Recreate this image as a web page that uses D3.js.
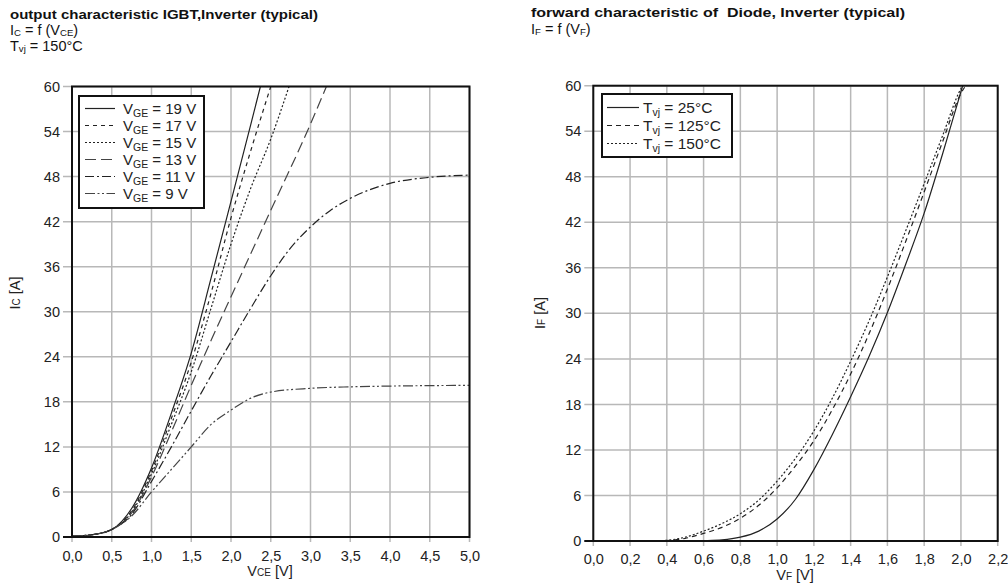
<!DOCTYPE html>
<html><head><meta charset="utf-8">
<script src="https://cdn.jsdelivr.net/npm/d3@7"></script>
<style>
body{margin:0;background:#fff;}
svg{display:block;font-family:"Liberation Sans",Arial,sans-serif;}
</style></head>
<body>
<svg id="c" width="1008" height="584"></svg>
<script>
// ---------- data: IGBT output characteristic (VCE [V], IC [A]) ----------
const vge19 = [[0,0.1],[0.25,0.3],[0.5,1.0],[0.75,3.8],[1.0,9.2],[1.25,16.5],[1.5,24.5],[1.75,34.5],[2.0,44.7],[2.25,55.0],[2.37,60]];
const vge17 = [[0,0.1],[0.25,0.3],[0.5,1.0],[0.75,3.5],[1.0,8.8],[1.25,15.8],[1.5,23.3],[1.75,32.5],[2.0,42.5],[2.25,51.5],[2.5,60]];
const vge15 = [[0,0.1],[0.25,0.3],[0.5,1.0],[0.75,3.3],[1.0,8.4],[1.25,15.0],[1.5,22.0],[1.75,30.5],[2.0,39.0],[2.25,46.5],[2.5,53.0],[2.73,60]];
const vge13 = [[0,0.1],[0.25,0.3],[0.5,1.0],[0.75,3.2],[1.0,8.0],[1.25,14.0],[1.5,20.2],[1.75,26.2],[2.0,32.0],[2.5,43.5],[3.0,55.0],[3.2,60]];
const vge11 = [[0,0.1],[0.25,0.3],[0.5,1.0],[0.75,3.0],[1.0,7.4],[1.25,12.0],[1.5,16.8],[1.75,21.5],[2.0,26.0],[2.25,30.5],[2.5,34.8],[2.75,38.5],[3.0,41.3],[3.25,43.5],[3.5,45.1],[4.0,47.1],[4.5,47.9],[5.0,48.2]];
const vge9  = [[0,0.1],[0.25,0.3],[0.5,1.0],[0.75,2.8],[1.0,6.0],[1.25,9.0],[1.5,12.0],[1.75,15.0],[2.0,16.9],[2.25,18.5],[2.5,19.3],[3.0,19.8],[3.5,20.0],[4.0,20.1],[5.0,20.2]];
const igbtLabels = ["19 V","17 V","15 V","13 V","11 V","9 V"];
const igbtXTicks = [0,0.5,1.0,1.5,2.0,2.5,3.0,3.5,4.0,4.5,5.0];
const igbtYTicks = [0,6,12,18,24,30,36,42,48,54,60];

// ---------- data: Diode forward characteristic (VF [V], IF [A]) ----------
const tvj25  = [[0,0],[0.4,0],[0.5,0],[0.6,0.05],[0.7,0.15],[0.8,0.5],[0.9,1.3],[1.0,2.9],[1.1,5.5],[1.2,9.4],[1.3,14.0],[1.4,19.0],[1.5,24.3],[1.6,30.1],[1.7,36.5],[1.8,43.2],[1.9,51.0],[2.0,59.2],[2.01,60]];
const tvj125 = [[0,0],[0.3,0],[0.4,0.05],[0.5,0.35],[0.6,1.0],[0.7,1.8],[0.8,3.0],[0.9,4.7],[1.0,7.0],[1.1,9.9],[1.2,13.2],[1.3,17.3],[1.4,22.0],[1.5,27.3],[1.6,33.2],[1.7,39.5],[1.8,46.0],[1.9,52.6],[2.0,59.0],[2.02,59.8]];
const tvj150 = [[0,0],[0.3,0],[0.4,0.1],[0.5,0.5],[0.6,1.3],[0.7,2.3],[0.8,3.6],[0.9,5.4],[1.0,7.9],[1.1,10.9],[1.2,14.5],[1.3,18.8],[1.4,23.7],[1.5,29.0],[1.6,34.8],[1.7,40.9],[1.8,47.1],[1.9,53.4],[2.0,59.6],[2.01,60]];
const diodeLabels = ["25°C","125°C","150°C"];
const diodeXTicks = [0,0.2,0.4,0.6,0.8,1.0,1.2,1.4,1.6,1.8,2.0,2.2];
const diodeYTicks = [0,6,12,18,24,30,36,42,48,54,60];

const svg = d3.select("#c");
const fmt = d => d.toFixed(1).replace(".", ",");
const gridCol = "#b8b8b8", lineCol = "#222";

function panel(o){
  const x = d3.scaleLinear().domain(o.xd).range(o.xr);
  const y = d3.scaleLinear().domain([0,60]).range(o.yr);
  const g = svg.append("g");
  const id = "clip" + o.key;
  svg.append("defs").append("clipPath").attr("id", id)
    .append("rect").attr("x", o.xr[0]).attr("y", o.yr[1]).attr("width", o.xr[1]-o.xr[0]).attr("height", o.yr[0]-o.yr[1]);
  // grid
  g.append("g").selectAll("line").data(o.xt).join("line")
    .attr("x1", d=>x(d)).attr("x2", d=>x(d)).attr("y1", o.yr[1]).attr("y2", o.yr[0]+5)
    .attr("stroke", gridCol).attr("stroke-width", 1.5);
  g.append("g").selectAll("line").data(o.yt).join("line")
    .attr("x1", o.xr[0]-9).attr("x2", o.xr[1]).attr("y1", d=>y(d)).attr("y2", d=>y(d))
    .attr("stroke", gridCol).attr("stroke-width", 1.5);
  // tick labels
  const xa = g.append("g").attr("transform", `translate(0,${o.yr[0]})`)
    .call(d3.axisBottom(x).tickValues(o.xt).tickFormat(fmt).tickSize(0).tickPadding(o.xpad));
  xa.select(".domain").remove();
  xa.selectAll("text").attr("font-size", 14.5).attr("fill", "#222").attr("font-family", "Liberation Sans, Arial, sans-serif");
  const ya = g.append("g").attr("transform", `translate(${o.xr[0]},0)`)
    .call(d3.axisLeft(y).tickValues(o.yt).tickFormat(d3.format("d")).tickSize(0).tickPadding(o.ypad));
  ya.select(".domain").remove();
  ya.selectAll("text").attr("font-size", 14.5).attr("fill", "#222").attr("font-family", "Liberation Sans, Arial, sans-serif");
  // curves
  const line = d3.line().x(d=>x(d[0])).y(d=>y(d[1])).curve(d3.curveMonotoneX);
  const cg = g.append("g").attr("clip-path", `url(#${id})`);
  o.series.forEach(s=>{
    cg.append("path").attr("d", line(s.data)).attr("fill","none")
      .attr("stroke", s.col || lineCol).attr("stroke-width", 1.2).attr("stroke-dasharray", s.dash);
  });
  // frame
  g.append("rect").attr("x", o.xr[0]).attr("y", o.yr[1]).attr("width", o.xr[1]-o.xr[0]).attr("height", o.yr[0]-o.yr[1])
    .attr("fill","none").attr("stroke","#111").attr("stroke-width",2);
  g.append("line").attr("x1", o.xr[0]-9).attr("x2", o.xr[0]).attr("y1", o.yr[0]).attr("y2", o.yr[0]).attr("stroke","#111").attr("stroke-width",2);
  // legend
  const L = o.legend;
  g.append("rect").attr("x", L.x).attr("y", L.y).attr("width", L.w).attr("height", L.h)
    .attr("fill","#fff").attr("stroke","#111").attr("stroke-width",2);
  o.series.forEach((s,i)=>{
    const cy = L.y + L.first + i*L.step;
    g.append("line").attr("x1", L.lx0).attr("x2", L.lx1).attr("y1", cy).attr("y2", cy)
      .attr("stroke", s.col || lineCol).attr("stroke-width", 1.2).attr("stroke-dasharray", s.dash);
    const t = g.append("text").attr("x", L.tx).attr("y", cy+5).attr("font-size", L.fs).attr("fill","#222");
    t.append("tspan").text(L.sym);
    t.append("tspan").attr("font-size", 10.5).attr("dy", 3).text(L.sub);
    t.append("tspan").attr("dy", -3).text(" = " + s.label);
  });
  return {x,y};
}

panel({
  key:"igbt", xd:[0,5], xr:[72,469.5], yr:[537,86.5], xt:igbtXTicks, yt:igbtYTicks, xpad:14, ypad:12,
  series:[
    {data:vge19, dash:null, label:igbtLabels[0]},
    {data:vge17, dash:"4,4", label:igbtLabels[1]},
    {data:vge15, dash:"2,2", label:igbtLabels[2]},
    {data:vge13, dash:"11,5", label:igbtLabels[3], col:"#444"},
    {data:vge11, dash:"9,3,2,3", label:igbtLabels[4]},
    {data:vge9,  dash:"10,2.5,2,2.5,2,2.5", label:igbtLabels[5], col:"#444"}
  ],
  legend:{x:79, y:96, w:125, h:112, first:12.5, step:17, lx0:85, lx1:115, tx:123, sym:"V", sub:"GE", fs:15}
});

panel({
  key:"diode", xd:[0,2.2], xr:[593.3,997.7], yr:[541,85.7], xt:diodeXTicks, yt:diodeYTicks, xpad:13, ypad:12,
  series:[
    {data:tvj25, dash:null, label:diodeLabels[0]},
    {data:tvj125, dash:"5,4", label:diodeLabels[1]},
    {data:tvj150, dash:"2,2", label:diodeLabels[2]}
  ],
  legend:{x:602, y:94, w:130, h:63, first:13.5, step:18, lx0:607, lx1:639, tx:643, sym:"T", sub:"vj", fs:15.5}
});

// ---------- titles ----------
function rich(x, y, parts, size){
  const t = svg.append("text").attr("x", x).attr("y", y).attr("font-size", size).attr("fill","#111");
  parts.forEach(p=>{
    if (p.sub) t.append("tspan").attr("font-size", size*0.66).attr("dy", 1).text(p.sub);
    else t.append("tspan").attr("dy", p.after ? -1 : 0).text(p.t);
  });
  return t;
}
svg.append("text").attr("x",10).attr("y",18.5).attr("font-size",13).attr("font-weight","bold").attr("fill","#111")
  .attr("textLength",308).attr("lengthAdjust","spacingAndGlyphs")
  .text("output characteristic IGBT,Inverter (typical)");
rich(10, 35, [{t:"I"},{sub:"C"},{t:" = f (V",after:true},{sub:"CE"},{t:")",after:true}], 14.5);
rich(10, 51, [{t:"T"},{sub:"vj"},{t:" = 150°C",after:true}], 14.5);
svg.append("text").attr("x",531).attr("y",17).attr("font-size",13).attr("font-weight","bold").attr("fill","#111")
  .attr("xml:space","preserve").attr("textLength",374).attr("lengthAdjust","spacingAndGlyphs")
  .text("forward characteristic of  Diode, Inverter (typical)");
rich(531, 34, [{t:"I"},{sub:"F"},{t:" = f (V",after:true},{sub:"F"},{t:")",after:true}], 14.5);

// ---------- axis titles ----------
const xl1 = svg.append("text").attr("x",270).attr("y",576).attr("text-anchor","middle").attr("font-size",14.5).attr("fill","#222");
xl1.append("tspan").text("V"); xl1.append("tspan").attr("font-size",10).text("CE"); xl1.append("tspan").text(" [V]");
const xl2 = svg.append("text").attr("x",795).attr("y",580).attr("text-anchor","middle").attr("font-size",14.5).attr("fill","#222");
xl2.append("tspan").text("V"); xl2.append("tspan").attr("font-size",10).text("F"); xl2.append("tspan").text(" [V]");
const yl1 = svg.append("text").attr("transform","translate(20,293) rotate(-90)").attr("text-anchor","middle").attr("font-size",14.5).attr("fill","#222");
yl1.append("tspan").text("I"); yl1.append("tspan").attr("font-size",10).text("C"); yl1.append("tspan").text(" [A]");
const yl2 = svg.append("text").attr("transform","translate(545,313) rotate(-90)").attr("text-anchor","middle").attr("font-size",14.5).attr("fill","#222");
yl2.append("tspan").text("I"); yl2.append("tspan").attr("font-size",10).text("F"); yl2.append("tspan").text(" [A]");
</script>
</body></html>
